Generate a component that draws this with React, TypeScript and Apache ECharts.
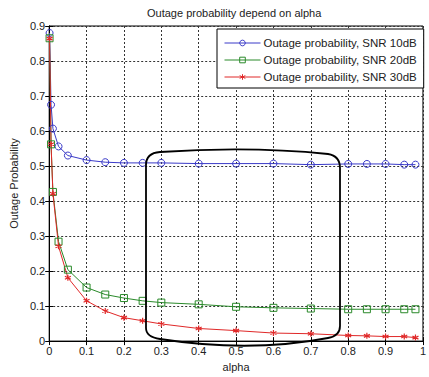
import React, { useEffect, useRef } from "react";
import * as echarts from "echarts";

const alpha = [0.001, 0.005, 0.01, 0.025, 0.05, 0.1, 0.15, 0.2, 0.25, 0.3, 0.4, 0.5, 0.6, 0.7, 0.8, 0.85, 0.9, 0.95, 0.98];
const snr10 = [0.88, 0.675, 0.607, 0.556, 0.53, 0.517, 0.511, 0.509, 0.509, 0.509, 0.507, 0.507, 0.507, 0.504, 0.506, 0.506, 0.506, 0.504, 0.504];
const snr20 = [0.865, 0.562, 0.426, 0.284, 0.204, 0.153, 0.133, 0.123, 0.115, 0.11, 0.105, 0.098, 0.095, 0.093, 0.091, 0.091, 0.091, 0.091, 0.091];
const snr30 = [0.864, 0.562, 0.421, 0.271, 0.181, 0.115, 0.086, 0.067, 0.058, 0.049, 0.036, 0.03, 0.023, 0.021, 0.016, 0.015, 0.013, 0.013, 0.01];
const seriesNames = ["Outage probability, SNR 10dB", "Outage probability, SNR 20dB", "Outage probability, SNR 30dB"];

const FONT = "'Liberation Sans', Arial, sans-serif";
const TXT = "#222";

const cylPath =
  "M146,165 Q146,153 160,152 Q250,146 328,154 Q340,156 340,168 L340,326 Q340,336 328,338 Q250,353 160,339 Q146,337 146,328 Z";

let registered = false;

export default function App() {
  const ref = useRef<HTMLDivElement>(null);
  useEffect(() => {
    if (!ref.current) return;
    if (!registered) {
      echarts.graphic.registerShape("cyl", echarts.graphic.extendPath(cylPath, {}));
      registered = true;
    }
    const chart = echarts.init(ref.current, undefined, { renderer: "svg" });
    const pair = (ys: number[]) => alpha.map((a, i) => [a, ys[i]]);
    const gridLine = { show: true, lineStyle: { color: "#333", type: [2, 2] as any, width: 1 } };
    const axisBase = {
      axisLine: { show: true, lineStyle: { color: "#000", width: 1 } },
      axisTick: { show: true, inside: true, length: 4, lineStyle: { color: "#000" } },
    };
    chart.setOption({
      animation: false,
      backgroundColor: "#fff",
      title: {
        text: "Outage probability depend on alpha",
        left: 147,
        top: 7,
        padding: 0,
        textStyle: { fontSize: 11, fontWeight: "normal", color: TXT, fontFamily: FONT },
      },
      grid: { left: 45, top: 26, right: 5, bottom: 32, show: true, borderColor: "#000", borderWidth: 1, backgroundColor: "#fff" },
      legend: {
        orient: "vertical",
        left: 217,
        top: 29,
        padding: [7, 7, 4, 7],
        itemGap: 3,
        itemWidth: 36,
        itemHeight: 7,
        borderColor: "#000",
        borderWidth: 1,
        backgroundColor: "#fff",
        lineStyle: { width: 1 },
        itemStyle: { borderWidth: 1 },
        textStyle: { fontSize: 11.5, color: TXT, fontFamily: FONT, lineHeight: 14, padding: [0, 0, 0, -2] },
        data: seriesNames,
      },
      xAxis: [
        {
          type: "value",
          min: 0,
          max: 1,
          interval: 0.1,
          name: "alpha",
          nameLocation: "middle",
          nameGap: 18,
          nameTextStyle: { fontSize: 11, color: TXT, fontFamily: FONT },
          axisLabel: { fontSize: 11, color: TXT, fontFamily: FONT, margin: 4 },
          splitLine: gridLine,
          ...axisBase,
        },
        {
          type: "value",
          position: "top",
          min: 0,
          max: 1,
          interval: 0.1,
          axisLabel: { show: false },
          splitLine: { show: false },
          ...axisBase,
        },
      ],
      yAxis: [
        {
          type: "value",
          min: 0,
          max: 0.9,
          interval: 0.1,
          name: "Outage Probability",
          nameLocation: "middle",
          nameGap: 27,
          nameTextStyle: { fontSize: 11, color: TXT, fontFamily: FONT },
          axisLabel: { fontSize: 11, color: TXT, fontFamily: FONT, margin: 4 },
          splitLine: gridLine,
          ...axisBase,
        },
        {
          type: "value",
          position: "right",
          min: 0,
          max: 0.9,
          interval: 0.1,
          axisLabel: { show: false },
          splitLine: { show: false },
          ...axisBase,
        },
      ],
      series: [
        {
          name: seriesNames[0],
          type: "line",
          data: pair(snr10),
          symbol: "circle",
          symbolSize: 7,
          showAllSymbol: true,
          lineStyle: { color: "#3a3ac8", width: 1 },
          itemStyle: { color: "rgba(0,0,0,0)", borderColor: "#3a3ac8", borderWidth: 1 },
        },
        {
          name: seriesNames[1],
          type: "line",
          data: pair(snr20),
          symbol: "rect",
          symbolSize: 7,
          showAllSymbol: true,
          lineStyle: { color: "#2a8a2a", width: 1 },
          itemStyle: { color: "rgba(0,0,0,0)", borderColor: "#2a8a2a", borderWidth: 1 },
        },
        {
          name: seriesNames[2],
          type: "line",
          data: pair(snr30),
          symbol: "path://M5,0L5,10M0.67,2.5L9.33,7.5M0.67,7.5L9.33,2.5",
          symbolSize: 6,
          showAllSymbol: true,
          lineStyle: { color: "#e02828", width: 1 },
          itemStyle: { color: "#e02828", borderColor: "#e02828", borderWidth: 1.2 },
        },
      ],
      graphic: [
        {
          type: "cyl",
          x: 0,
          y: 0,
          z: 100,
          silent: true,
          style: { fill: "none", stroke: "#000", lineWidth: 1.8 },
        },
      ],
    });
    return () => chart.dispose();
  }, []);
  return <div ref={ref} style={{ width: 429, height: 377, position: "absolute", left: 0, top: 0 }} />;
}
